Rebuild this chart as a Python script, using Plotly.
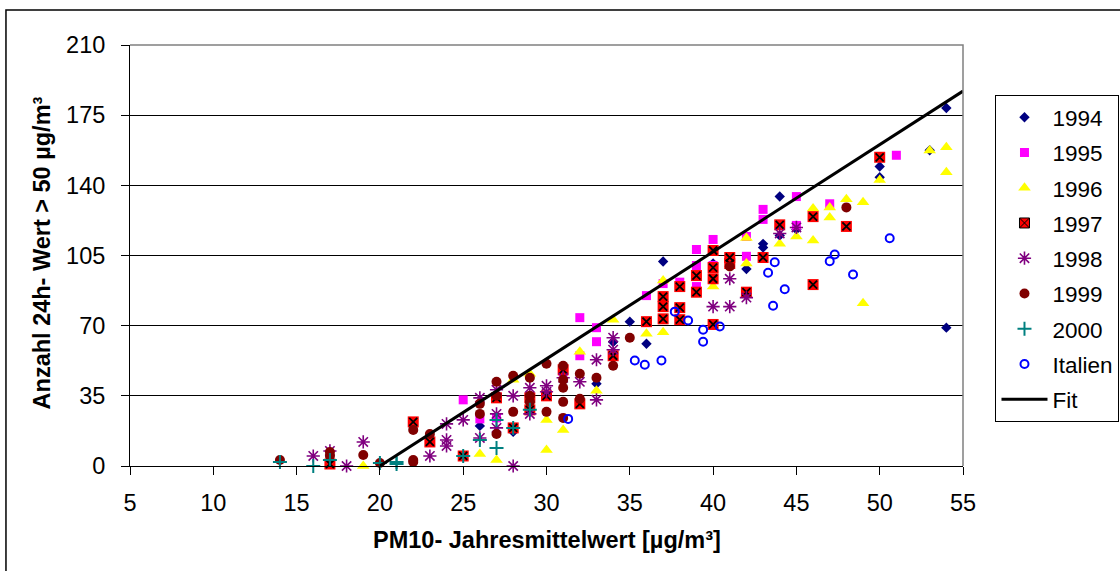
import plotly.graph_objects as go

# ---------------- data ----------------
x1994 = [26, 28, 33, 34, 34, 35, 36, 37, 40, 42, 43, 43, 44, 44, 45, 50, 50, 53, 54, 54]
y1994 = [20, 17, 41, 62, 62, 72, 61, 102, 101, 98.3, 110.8, 109, 134.4, 115, 118, 149.4, 144, 157.5, 178.6, 69]

x1995 = [25, 26, 27, 31, 32, 32, 33, 33, 36, 37, 38, 39, 39, 39, 40, 40, 42, 42, 43, 43, 45, 45, 47, 51]
y1995 = [33, 23.5, 24, 47, 74, 55, 69, 62, 85, 91, 91.7, 108, 100, 89.5, 113, 100, 114.5, 104.6, 128, 123, 134.4, 120, 130.8, 155]

x1996 = [19, 26, 27, 28, 29, 30, 30, 31, 32, 33, 34, 36, 37, 37, 40, 42, 42, 44, 45, 46, 46,
         47, 47, 48, 49, 49, 50, 53, 54, 54]
y1996 = [0, 6, 3, 43, 46, 23, 8, 18, 57, 37.5, 73, 66, 92.5, 66.7, 89.5, 113.7, 101, 110.8, 114.5, 128.4, 112.5,
         129, 124, 133, 131.6, 81.2, 142.7, 157.4, 159, 146.5]

x1997 = [17, 22, 23, 25, 27, 28, 29, 29, 30, 31, 32, 34, 36, 37, 37, 37, 38, 38, 38, 39, 39,
         40, 40, 40, 40, 41, 41, 42, 43, 44, 46, 46, 48, 50]
y1997 = [1, 22, 12, 5, 34, 19, 34, 28, 35, 48, 31, 55, 72, 84.5, 79.5, 73.4, 89.5, 79, 73, 95, 86.7,
         107.5, 99, 93.4, 70.6, 104, 101, 86.7, 104, 120.3, 124.4, 90.5, 119.5, 154]

x1998 = [16, 17, 18, 19, 23, 24, 24, 24, 25, 26, 26, 27, 27, 27, 28, 28, 29, 29, 30, 30,
         31, 32, 33, 33, 34, 34, 40, 41, 41, 42, 44, 45]
y1998 = [5, 7.5, 0, 12, 5, 21, 13, 10, 23, 34, 14, 38, 26, 19, 35, 0, 39, 26, 40, 37,
         44, 42, 53, 33, 64, 58, 79.5, 93.4, 79.5, 84, 116, 119]

x1999 = [14, 17, 17, 19, 20, 22, 22, 22, 23, 26, 26, 27, 27, 27, 28, 28, 29, 29, 29, 30, 30,
         31, 31, 31, 31, 31, 32, 32, 33, 34, 35, 41, 48]
y1999 = [3, 7, 5, 5.5, 1.5, 18, 2, 3, 16, 31, 26, 42, 35, 16, 45, 27, 44, 35, 32, 51, 27,
         50, 43, 39, 32, 24, 46, 33.5, 44, 50, 64, 99.5, 129]

x2000 = [14, 16, 17, 20, 21, 21, 25, 26, 27, 27, 28, 29]
y2000 = [2, 0, 3, 1.5, 2, 1, 5, 13, 23, 9, 19, 28]

xItalien = [31.3, 35.3, 35.9, 36.9, 37.7, 38.5, 39.4, 39.4, 40.4, 43.7, 43.3, 44.3, 43.6, 47.0, 47.3, 48.4, 50.6]
yItalien = [23.5, 52.6, 50.5, 52.6, 77, 72.6, 68, 62, 69.6, 101.6, 96.4, 88.2, 79.9, 102.1, 105.5, 95.5, 113.6]

fit_x = [20, 55]
fit_y = [0, 187]

x_ticks = [5, 10, 15, 20, 25, 30, 35, 40, 45, 50, 55]
y_ticks = [0, 35, 70, 105, 140, 175, 210]

x_title = "PM10- Jahresmittelwert [µg/m³]"
y_title = "Anzahl 24h- Wert > 50 µg/m³"

FONT = "Liberation Sans, Arial, sans-serif"
FS = 23.5

fig = go.Figure()

def add(x, y, name, symbol, color, size, lw=0, lc=None, rank=0, showlegend=True):
    m = dict(symbol=symbol, color=color, size=size)
    if lw:
        m["line"] = dict(width=lw, color=lc or color)
    else:
        m["line"] = dict(width=0)
    fig.add_trace(go.Scatter(x=x, y=y, mode="markers", name=name, marker=m,
                             legendgroup=name, legendrank=rank, showlegend=showlegend,
                             cliponaxis=False))

add(x1994, y1994, "1994", "diamond", "#000080", 8, rank=1)
add(x1995, y1995, "1995", "square", "#FF00FF", 9, rank=2)
add(x1996, y1996, "1996", "triangle-up", "#FFFF00", 11, rank=3)
# 1997: red square with black cross
add(x1997, y1997, "1997", "square", "#FF0000", 11, rank=4, showlegend=False)
add(x1997, y1997, "1997", "x-thin-open", "#000000", 8, lw=1.8, lc="#000000", rank=4, showlegend=False)
add([None], [None], "1997", "square-x", "#FF0000", 10, lw=1, lc="#000000", rank=4)
add(x1998, y1998, "1998", "asterisk-open", "#800080", 11, lw=1.6, rank=5)
add(x1999, y1999, "1999", "circle", "#800000", 10, rank=6)
add(x2000, y2000, "2000", "cross-thin-open", "#008080", 10, lw=2, rank=7)
add(xItalien, yItalien, "Italien", "circle-open", "#0000FF", 8, lw=2, rank=8)

fig.add_trace(go.Scatter(x=fit_x, y=fit_y, mode="lines", name="Fit",
                         line=dict(color="#000000", width=3), legendgroup="Fit", legendrank=9))

fig.update_layout(
    width=1120, height=571,
    margin=dict(l=130, r=157, t=45, b=105, autoexpand=False),
    paper_bgcolor="white", plot_bgcolor="white",
    font=dict(family=FONT, size=FS, color="black"),
    showlegend=True,
    legend=dict(x=1.039, y=0.881, xanchor="left", yanchor="top",
                bordercolor="black", borderwidth=1, bgcolor="white",
                font=dict(size=22.5, family=FONT, color="black"),
                tracegroupgap=3, itemwidth=46),
)

fig.update_xaxes(range=[5, 55], tickvals=x_ticks, ticktext=[str(v) for v in x_ticks],
                 showgrid=False, zeroline=False, showline=True, linecolor="black", linewidth=1,
                 ticks="outside", ticklen=8, tickcolor="black", tickwidth=1,
                 ticklabelstandoff=8, tickfont=dict(size=FS))
fig.update_yaxes(range=[0, 210], tickvals=y_ticks, ticktext=[str(v) for v in y_ticks],
                 showgrid=True, gridcolor="black", gridwidth=1, zeroline=False,
                 showline=True, linecolor="black", linewidth=1,
                 ticks="outside", ticklen=8, tickcolor="black", tickwidth=1,
                 ticklabelstandoff=11, tickfont=dict(size=FS))

# axis titles as annotations
fig.add_annotation(text="<b>" + x_title + "</b>", xref="paper", yref="paper",
                   x=0.5, y=-0.1758, xanchor="center", yanchor="middle",
                   showarrow=False, font=dict(size=FS, family=FONT, color="black"))
fig.add_annotation(text="<b>" + y_title + "</b>", xref="paper", yref="paper",
                   x=-0.1056, y=0.505, xanchor="center", yanchor="middle", textangle=-90,
                   showarrow=False, font=dict(size=FS, family=FONT, color="black"))

# plot-area border (top and right, grey)
fig.add_shape(type="path", xref="paper", yref="paper", path="M 0,1 L 1,1 L 1,0",
              line=dict(color="#808080", width=1.5), layer="above")
# outer chart border
fig.add_shape(type="rect", xref="paper", yref="paper",
              x0=-0.1489, x1=1.3, y0=-0.3, y1=1.083,
              line=dict(color="black", width=1.5), layer="below")

fig.write_html("out.html")
